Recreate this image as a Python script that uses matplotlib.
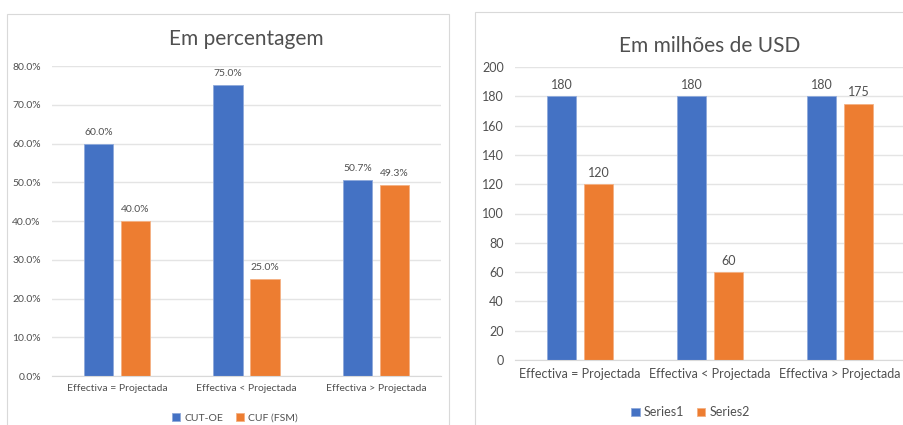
import matplotlib
matplotlib.use('Agg')
import matplotlib.pyplot as plt
import numpy as np
from matplotlib.patches import Rectangle

plt.rcParams['font.family'] = ['Lato', 'DejaVu Sans']

categories = ['Effectiva = Projectada', 'Effectiva < Projectada', 'Effectiva > Projectada']
pct_cut_oe = [0.60, 0.75, 0.507]
pct_cuf = [0.40, 0.25, 0.493]
usd_series1 = [180, 180, 180]
usd_series2 = [120, 60, 175]

blue = '#4472C4'
orange = '#ED7D31'
textc = '#505050'
gridc = '#E4E4E4'

W, H = 904, 425
fig = plt.figure(figsize=(W / 100, H / 100), dpi=100)

def px_axes(x0, y0, x1, y1):
    # pixel box (top-left origin) -> axes
    return fig.add_axes([x0 / W, 1 - y1 / H, (x1 - x0) / W, (y1 - y0) / H])

# chart frames
for (x0, y0, x1, y1) in [(7, 14, 449, 430), (475, 12, 910, 430)]:
    fig.patches.append(Rectangle((x0 / W, 1 - y1 / H), (x1 - x0) / W, (y1 - y0) / H,
                                 transform=fig.transFigure, fill=False,
                                 edgecolor='#D9D9D9', linewidth=0.8))

x = np.arange(len(categories))
bw = 0.225
off = 0.142


def style(ax, ymax, step, fmt, fs):
    ax.set_xlim(-0.5, 2.5)
    ax.set_ylim(0, ymax)
    ticks = np.arange(0, ymax + step / 2, step)
    ax.set_yticks(ticks)
    ax.set_yticklabels([fmt(t) for t in ticks], fontsize=fs, color=textc)
    ax.set_xticks(x)
    ax.set_xticklabels(categories, fontsize=fs, color=textc)
    ax.tick_params(length=0, pad=6)
    ax.tick_params(axis='y', pad=8)
    ax.grid(axis='y', color=gridc, linewidth=1)
    ax.set_axisbelow(True)
    for s in ax.spines.values():
        s.set_visible(False)
    ax.spines['bottom'].set_visible(True)
    ax.spines['bottom'].set_color('#D9D9D9')


# left chart
ax1 = px_axes(52, 66, 441, 376)
b1 = ax1.bar(x - off, pct_cut_oe, bw, color=blue, edgecolor='#8EA9DB', linewidth=0.6, label='CUT-OE')
b2 = ax1.bar(x + off, pct_cuf, bw, color=orange, edgecolor='#F4B183', linewidth=0.6, label='CUF (FSM)')
style(ax1, 0.8, 0.1, lambda t: f'{t * 100:.1f}%', 7.5)
for bars in (b1, b2):
    ax1.bar_label(bars, labels=[f'{v * 100:.1f}%' for v in bars.datavalues],
                  padding=5, fontsize=7.5, color=textc)
ax1.set_title('Em percentagem', fontsize=15, color=textc, pad=15)
ax1.legend(loc='upper center', bbox_to_anchor=(0.47, -0.09), ncol=2, frameon=False,
           fontsize=7.5, labelcolor=textc, handlelength=0.8, handleheight=0.8,
           handletextpad=0.4, columnspacing=1.2)

# right chart
ax2 = px_axes(515, 67, 905, 360)
c1 = ax2.bar(x - off, usd_series1, bw, color=blue, edgecolor='#8EA9DB', linewidth=0.6, label='Series1')
c2 = ax2.bar(x + off, usd_series2, bw, color=orange, edgecolor='#F4B183', linewidth=0.6, label='Series2')
style(ax2, 200, 20, lambda t: f'{int(t)}', 9)
for bars in (c1, c2):
    ax2.bar_label(bars, padding=4, fontsize=9, color=textc)
ax2.set_title('Em milhões de USD', fontsize=15, color=textc, pad=11)
ax2.legend(loc='upper center', bbox_to_anchor=(0.45, -0.12), ncol=2, frameon=False,
           fontsize=9, labelcolor=textc, handlelength=0.7, handleheight=0.7,
           handletextpad=0.3, columnspacing=1.0)

fig.savefig('out.png', dpi=100, facecolor='white')
